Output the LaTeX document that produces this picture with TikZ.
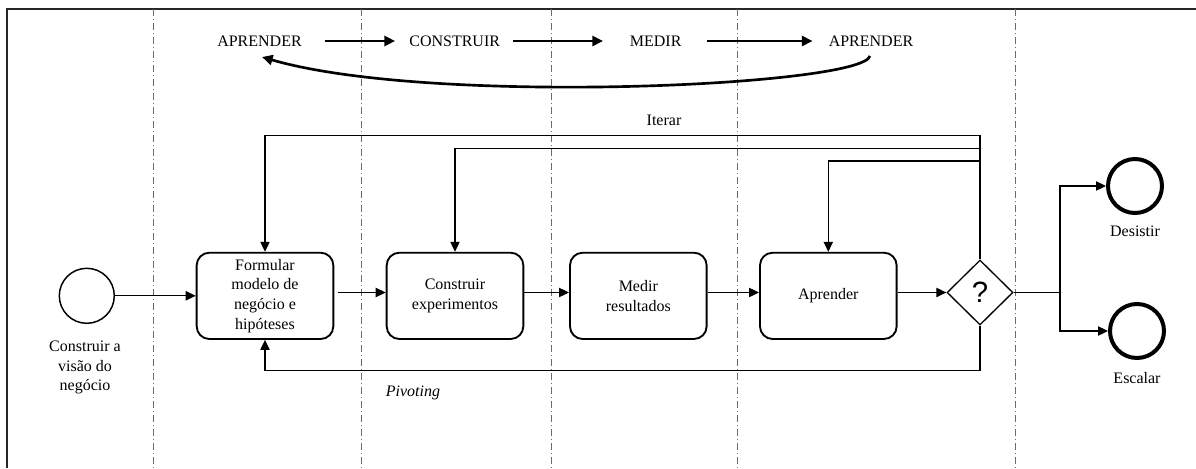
\documentclass[tikz,border=0pt]{standalone}
\usepackage{fontspec}
\setmainfont{Liberation Serif}
\newfontfamily\qfont{Liberation Sans}
\usetikzlibrary{arrows.meta,shapes.geometric}
\begin{document}
\begin{tikzpicture}[x=0.75pt,y=-0.75pt,
  conn/.style={line width=0.8pt,-{Triangle[length=7.5pt,width=7pt]}},
  plainline/.style={line width=0.8pt},
  bigarrow/.style={line width=2pt,-{Triangle[length=8pt,width=7.5pt]}},
  task/.style={draw,line width=1.4pt,rounded corners=9.5pt,minimum width=102.5pt,
    minimum height=64.7pt,align=center,inner sep=0pt,font=\fontsize{12}{14.8}\selectfont},
  txt/.style={inner sep=0pt,font=\fontsize{12}{14.6}\selectfont,align=center},
  lane/.style={gray!85!black,line width=0.6pt,dash pattern=on 5.6pt off 1.9pt on 1.1pt off 1.9pt},
  startev/.style={circle,draw,line width=1.1pt,minimum size=41.25pt,inner sep=0pt},
  endev/.style={circle,draw,line width=3pt,minimum size=40.5pt,inner sep=0pt},
  gate/.style={diamond,draw,line width=1pt,minimum width=49.5pt,minimum height=48.75pt,
    inner sep=0pt,font=\qfont\fontsize{22}{22}\selectfont}
]
\useasboundingbox (0,0) rectangle (1196,468);
% frame
\draw[line width=1.5pt,black!85] (7,468) -- (7,9) -- (1196,9);
% lanes
\foreach \x in {153,361,551,737,1015} \draw[lane] (\x,9) -- (\x,468);

% top cycle
\node[txt] (t1) at (259.5,41) {APRENDER};
\node[txt] (t2) at (454.7,41) {CONSTRUIR};
\node[txt] (t3) at (655.7,41) {MEDIR};
\node[txt] (t4) at (871,41) {APRENDER};
\draw[bigarrow,shorten <=17pt,shorten >=10.5pt] (t1.east) -- (t2.west);
\draw[bigarrow,shorten <=9.5pt,shorten >=20pt] (t2.east) -- (t3.west);
\draw[bigarrow,shorten <=19pt,shorten >=12pt] (t3.east) -- (t4.west);
\coordinate (cs) at (870,56);
\coordinate (ce) at (262,57);
\draw[bigarrow] (cs) .. controls (862,86) and (430,106) .. (ce);

% process
\node[startev] (s) at (86.8,295.8) {};
\node[txt] (sl) at (85,367.7) {Construir a\\visão do\\negócio};
\node[task] (b1) at (265,295.85) {Formular\\modelo de\\negócio e\\hipóteses};
\node[task] (b2) at (455,295.85) {Construir\\experimentos};
\node[task] (b3) at (638.3,295.85) {Medir\\resultados};
\node[task] (b4) at (828.3,295.85) {Aprender};
\node[gate] (d) at (980,292.5) {?};
\node[endev] (e1) at (1135,186) {};
\node[txt] (e1l) at (1135,231.5) {Desistir};
\node[endev] (e2) at (1137,331) {};
\node[txt] (e2l) at (1137,378) {Escalar};

\coordinate (yI1) at (0,135.7);
\coordinate (yI2) at (0,148.3);
\coordinate (yI3) at (0,161);
\coordinate (yP) at (0,370.5);
\coordinate (xB) at (1060,0);

\draw[conn] (s.east) -- (b1.west |- s.east);
\draw[conn,shorten <=3pt] (b1.east |- d) -- (b2.west |- d);
\draw[conn] (b2.east |- d) -- (b3.west |- d);
\draw[conn] (b3.east |- d) -- (b4.west |- d);
\draw[conn] (b4.east |- d) -- (d.west);

\draw[conn] (d.north) -- (d.north |- yI1) -| (b1.north);
\draw[conn] (d.north |- yI2) -| (b2.north);
\draw[conn] (d.north |- yI3) -| (b4.north);
\draw[conn] (d.south) -- (d.south |- yP) -| (b1.south);

\draw[plainline] (d.east) -- (xB |- d);
\draw[conn] (xB |- d) |- (e1.west);
\draw[conn] (xB |- d) |- (e2.west);

\node[txt] (it) at (664,120) {Iterar};
\node[txt,font=\fontsize{12}{14.6}\selectfont\itshape] (pv) at (413,393) {Pivoting};
\end{tikzpicture}
\end{document}
